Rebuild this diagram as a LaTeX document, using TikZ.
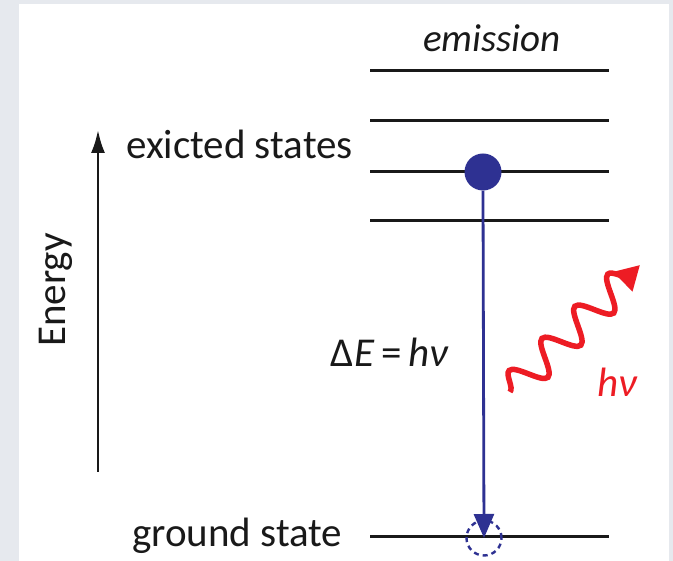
\documentclass[tikz,border=0pt]{standalone}
\usepackage{fontspec}
\setmainfont{Carlito}
\usetikzlibrary{arrows.meta,decorations.pathmorphing}
\definecolor{bgray}{HTML}{E6E9EE}
\definecolor{dblue}{HTML}{2E3192}
\definecolor{fred}{HTML}{ED1C24}
\tikzset{
  level/.style={line width=3pt, black!90},
  energyarrow/.style={-{Latex[length=23pt,width=14pt]}, line width=2.6pt, black!90},
  transarrow/.style={-{Triangle[length=24pt,width=20pt]}, line width=2.8pt, dblue},
  ball/.style={circle, fill=dblue, minimum size=37pt, inner sep=0pt},
  hole/.style={circle, draw=dblue, line width=2.4pt, dash pattern=on 5pt off 4pt, minimum size=35pt, inner sep=0pt},
  photon/.style={-{Triangle[length=24pt,width=26pt]}, line width=5.5pt, fred,
    decorate, decoration={snake, segment length=46pt, amplitude=16pt, post length=12pt}},
  label/.style={font=\fontsize{41}{48}\selectfont, inner sep=0pt, text=black!90}
}

\begin{document}
\begin{tikzpicture}[x=1pt, y=-1pt]
  \fill[bgray] (0,0) rectangle (673,561);
  \fill[white] (19,4) rectangle (669,561);
  \useasboundingbox (0,0) rectangle (673,561);

  % energy levels
  \foreach \y in {71,121,172,221}
    \draw[level] (370,\y) -- (609,\y);
  \draw[level] (370,537) -- (609,537);

  % labels
  \node[label, anchor=base, font=\fontsize{39}{46}\selectfont\itshape] (emis) at (492,52) {emission};
  \node[label, anchor=base west] (exc) at (126,159) {exicted states};
  \node[label, anchor=base west] (gnd) at (132,547) {ground state};
  \node[label, anchor=base, rotate=90] (energy) at (65,290) {Energy};
  \node[label, anchor=base] (delta) at (390,367) {Δ\textit{E}\,=\,\textit{hν}};
  \node[label, anchor=base, text=fred] (hnu) at (618,397) {\textit{hν}};

  % energy axis
  \coordinate (elow) at (98,472);
  \coordinate (ehigh) at (98,130);
  \draw[energyarrow] (elow) -- (ehigh);

  % transition
  \node[hole] (hole) at (484,538) {};
  \node[ball] (ball) at (483,172) {};
  \draw[transarrow] (ball.south) -- (hole.center);

  % emitted photon
  \coordinate (ws) at (510,392);
  \coordinate (we) at (640,265);
  \draw[photon] (ws) -- (we);
\end{tikzpicture}
\end{document}
